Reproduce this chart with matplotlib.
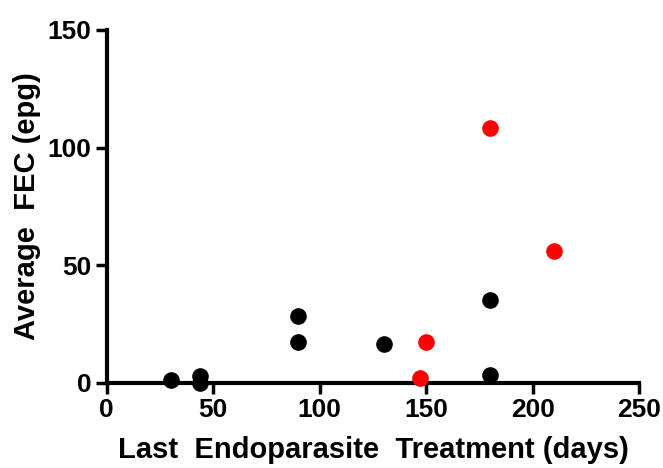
import numpy as np
import matplotlib.pyplot as plt

# black group
days_black = [30, 44, 44, 90, 90, 130, 180, 180]
fec_black = [1.2, 3, 0, 28.5, 17.3, 16.6, 35.2, 3.4]
# red group
days_red = [147, 150, 180, 210]
fec_red = [2.1, 17.4, 108.3, 56.1]

xticks = [0, 50, 100, 150, 200, 250]
yticks = [0, 50, 100, 150]

plt.rcParams['font.family'] = ['Liberation Sans', 'DejaVu Sans']
plt.rcParams['font.weight'] = 'bold'

fig = plt.figure(figsize=(6.63, 4.68), dpi=100)
ax = fig.add_axes([0.161, 0.182, 0.803, 0.754])

ax.scatter(days_black, fec_black, s=120, c='black', zorder=3, clip_on=False)
ax.scatter(days_red, fec_red, s=120, c='#ff0000', zorder=3, clip_on=False)

ax.set_xlim(0, 250)
ax.set_ylim(0, 150)
ax.set_xticks(xticks)
ax.set_yticks(yticks)

for s in ['top', 'right']:
    ax.spines[s].set_visible(False)
for s in ['left', 'bottom']:
    ax.spines[s].set_linewidth(3)

ax.tick_params(axis='both', length=8, width=2.5, labelsize=19, pad=3)
for lab in ax.get_xticklabels() + ax.get_yticklabels():
    lab.set_fontweight('bold')

ax.set_xlabel('Last  Endoparasite  Treatment (days)', fontsize=21, fontweight='bold', labelpad=10)
ax.set_ylabel('Average  FEC (epg)', fontsize=21, fontweight='bold', labelpad=5)

fig.savefig('out.png', dpi=100)
